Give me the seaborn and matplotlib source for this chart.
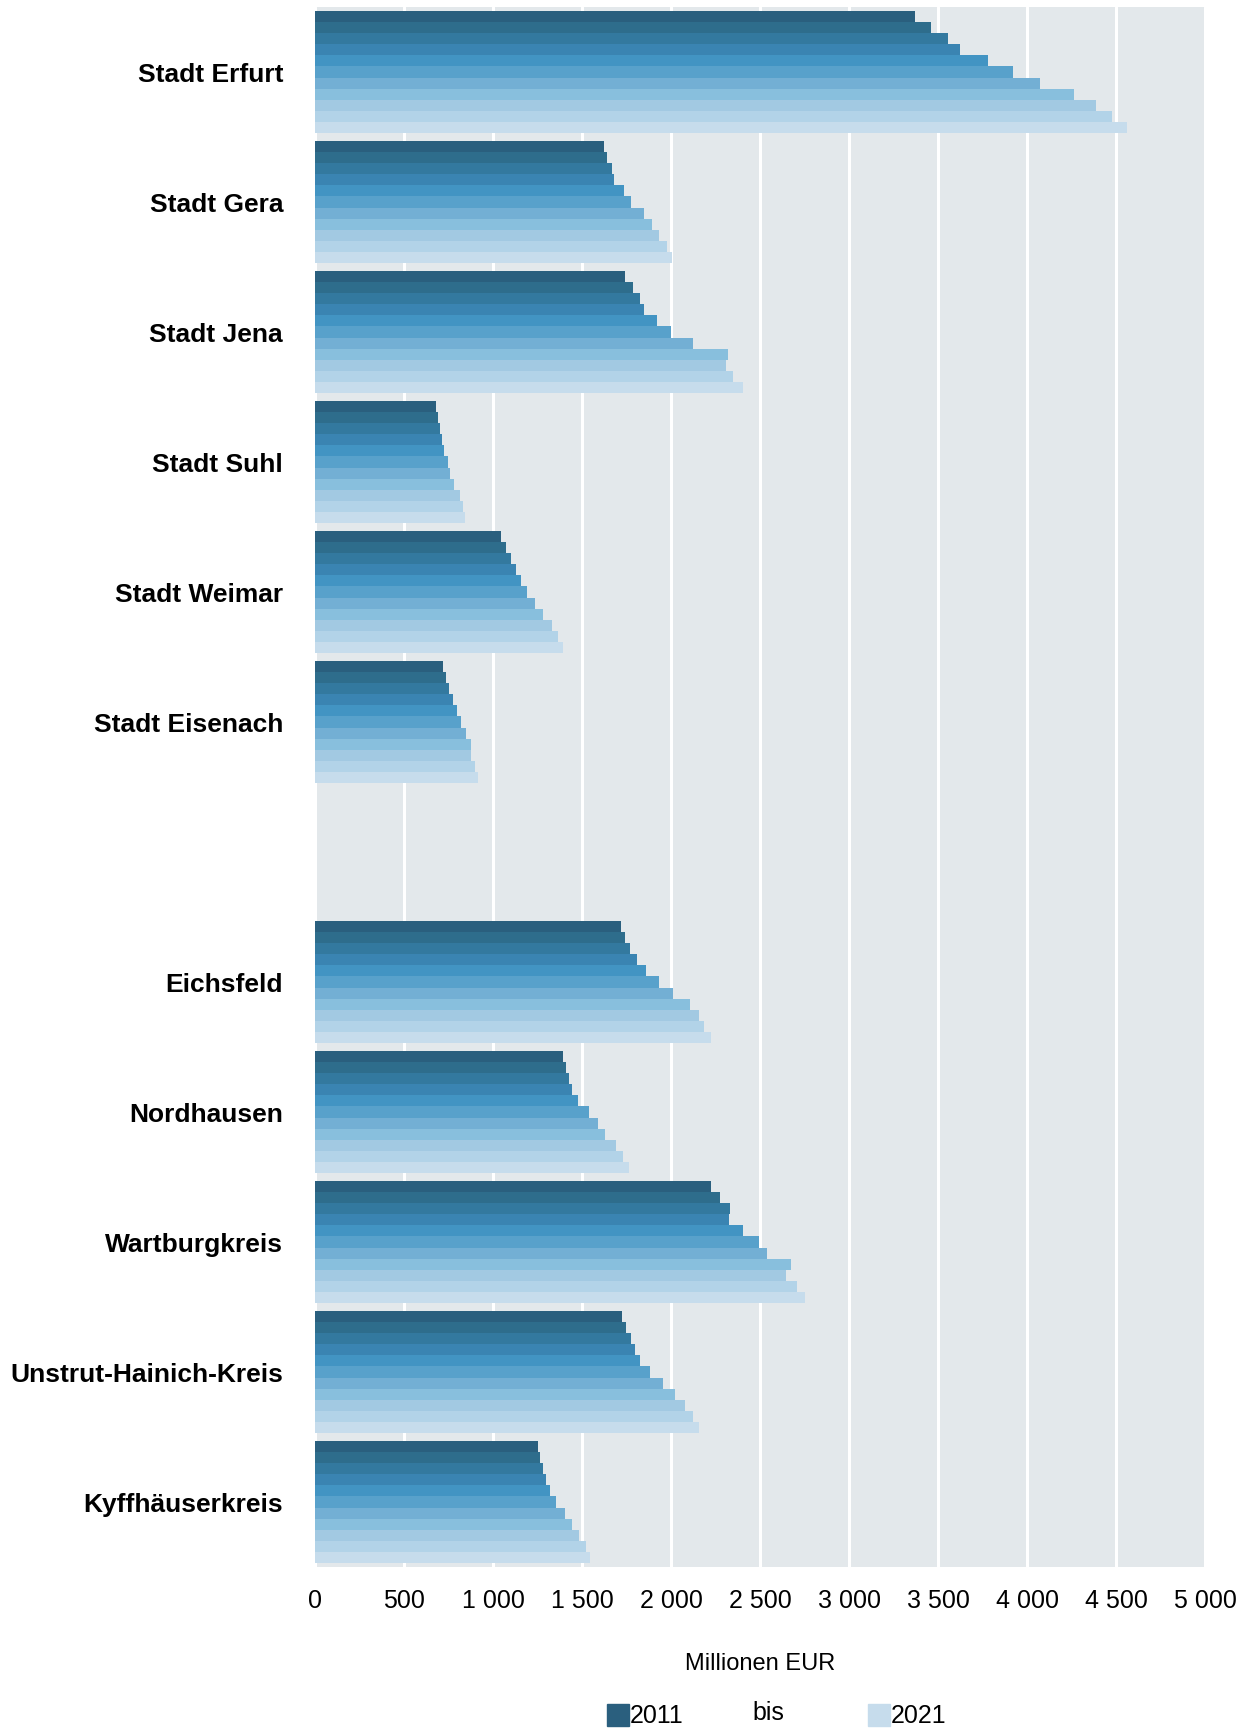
"""Bruttoinlandsprodukt der Thüringer Kreise 2011 bis 2021"""

import matplotlib
matplotlib.use("Agg")
import matplotlib.pyplot as plt
from matplotlib.patches import Rectangle
import seaborn as sns
import pandas as pd

# regions from top to bottom, " " is the empty slot between cities and districts
regions = ["Stadt Erfurt", "Stadt Gera", "Stadt Jena", "Stadt Suhl", "Stadt Weimar",
           "Stadt Eisenach", " ", "Eichsfeld", "Nordhausen", "Wartburgkreis",
           "Unstrut-Hainich-Kreis", "Kyffhäuserkreis"]
years = [str(y) for y in range(2011, 2022)]

# Millionen EUR, 2011 ... 2021
erfurt = [3373, 3463, 3558, 3626, 3783, 3922, 4073, 4264, 4390, 4479, 4559]
gera = [1624, 1642, 1667, 1680, 1734, 1773, 1846, 1891, 1933, 1979, 2007]
jena = [1743, 1785, 1828, 1850, 1923, 2002, 2124, 2322, 2309, 2350, 2405]
suhl = [682, 691, 700, 712, 725, 745, 757, 783, 816, 831, 843]
weimar = [1047, 1075, 1099, 1127, 1155, 1193, 1236, 1283, 1333, 1363, 1393]
eisenach = [721, 738, 753, 775, 798, 818, 846, 878, 878, 899, 916]
eichsfeld = [1720, 1741, 1771, 1810, 1860, 1933, 2014, 2104, 2156, 2184, 2223]
nordhausen = [1393, 1408, 1427, 1445, 1477, 1537, 1589, 1632, 1692, 1733, 1765]
wartburg = [2227, 2276, 2334, 2328, 2405, 2496, 2541, 2676, 2646, 2706, 2751]
unstrut = [1726, 1746, 1778, 1795, 1825, 1883, 1954, 2025, 2077, 2122, 2158]
kyffhaeuser = [1251, 1262, 1281, 1296, 1318, 1356, 1406, 1445, 1481, 1520, 1543]

series = {
    "Stadt Erfurt": erfurt, "Stadt Gera": gera, "Stadt Jena": jena,
    "Stadt Suhl": suhl, "Stadt Weimar": weimar, "Stadt Eisenach": eisenach,
    "Eichsfeld": eichsfeld, "Nordhausen": nordhausen, "Wartburgkreis": wartburg,
    "Unstrut-Hainich-Kreis": unstrut, "Kyffhäuserkreis": kyffhaeuser,
}

colors = ["#2a5f7e", "#2e6d8c", "#33799f", "#3a84b2", "#4294c3", "#58a1cb",
          "#73afd4", "#88bfdd", "#a2c9e2", "#b2d3e8", "#c6dcec"]

xticks = list(range(0, 5001, 500))
xticklabels = ["0", "500", "1 000", "1 500", "2 000", "2 500", "3 000",
               "3 500", "4 000", "4 500", "5 000"]

rows = []
for region, values in series.items():
    for year, v in zip(years, values):
        rows.append({"Region": region, "Jahr": year, "Wert": v})
df = pd.DataFrame(rows)

sns.set_theme(style="white")
plt.rcParams["font.family"] = ["Liberation Sans", "DejaVu Sans"]
plt.rcParams["text.color"] = "black"
plt.rcParams["xtick.color"] = "black"
plt.rcParams["ytick.color"] = "black"

W, H = 1249, 1728
fig = plt.figure(figsize=(W / 100, H / 100), dpi=100)
ax = fig.add_axes([315 / W, 1 - 1567 / H, 890 / W, 1560 / H])
ax.set_facecolor("#e3e8eb")

sns.barplot(data=df, x="Wert", y="Region", hue="Jahr", order=regions,
            hue_order=years, palette=colors, saturation=1, width=0.94,
            errorbar=None, linewidth=0, legend=False, ax=ax, zorder=3)

ax.set_xlim(0, 5000)
ax.set_xticks(xticks)
ax.set_xticklabels(xticklabels, fontsize=18, color="black")
ax.grid(axis="x", color="white", linewidth=2.2, zorder=0)
ax.grid(axis="y", visible=False)
ax.set_axisbelow(True)
ax.tick_params(axis="x", length=0, pad=16)
ax.tick_params(axis="y", length=0, pad=23)
for lbl in ax.get_yticklabels():
    lbl.set_fontsize(19)
    lbl.set_fontweight("bold")
    lbl.set_color("black")
ax.set_xlabel("")
ax.set_ylabel("")
for s in ax.spines.values():
    s.set_visible(False)

fig.text(760 / W, 1 - 1664 / H, "Millionen EUR", fontsize=17,
         ha="center", va="center")

# legend: 2011 bis 2021
fig.patches.append(Rectangle((607 / W, 1 - 1726 / H), 22 / W, 22 / H,
                             transform=fig.transFigure, color=colors[0]))
fig.text(630 / W, 1 - 1716 / H, "2011", fontsize=18, ha="left", va="center")
fig.text(768 / W, 1 - 1713 / H, "bis", fontsize=18, ha="center", va="center")
fig.patches.append(Rectangle((868 / W, 1 - 1726 / H), 22 / W, 22 / H,
                             transform=fig.transFigure, color=colors[-1]))
fig.text(891 / W, 1 - 1716 / H, "2021", fontsize=18, ha="left", va="center")

fig.savefig("out.png", dpi=100)
